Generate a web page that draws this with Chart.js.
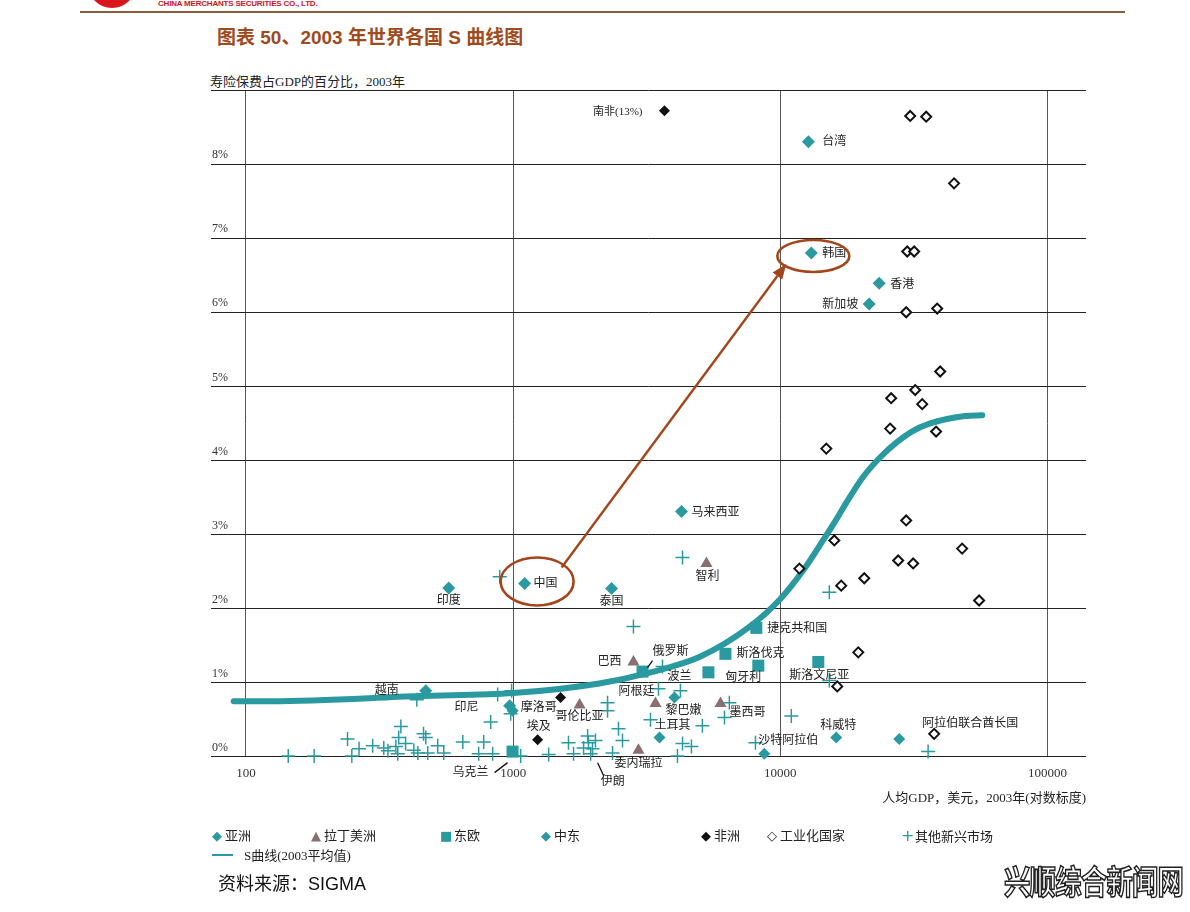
<!DOCTYPE html>
<html><head><meta charset="utf-8">
<script src="https://cdn.jsdelivr.net/npm/chart.js@4.4.1/dist/chart.umd.min.js"></script>
<style>
html,body{margin:0;padding:0;background:#fff;}
body{width:1190px;height:912px;position:relative;overflow:hidden;font-family:"Liberation Serif","Noto Sans CJK SC",serif;color:#222;}
#logo{position:absolute;left:88px;top:-40px;width:48px;height:48px;border-radius:50%;background:#d8151c;}
#company{position:absolute;left:158px;top:-1px;font:bold 8px "Liberation Sans",Arial,sans-serif;color:#c8161d;letter-spacing:-0.2px;}
#rule{position:absolute;left:80px;top:11px;width:1045px;height:2px;background:#8c5a3c;}
#heading{position:absolute;left:217px;top:22px;font:bold 19px "Liberation Sans","Noto Sans CJK SC",sans-serif;color:#9e4b1d;white-space:nowrap;}
#ytitle{position:absolute;left:210px;top:71px;font:13px "Liberation Serif","Noto Sans CJK SC",serif;color:#222;white-space:nowrap;}
#chart{position:absolute;left:0;top:0;}
.lg{position:absolute;font:13px "Liberation Serif","Noto Sans CJK SC",serif;color:#222;white-space:nowrap;line-height:16px;}
.lg span.m{display:inline-block;width:12px;text-align:center;margin-right:2px;font-family:"DejaVu Sans",sans-serif;}
.lg span.ln{display:inline-block;width:21px;height:0;border-top:2.5px solid #2a9aa0;vertical-align:middle;margin-right:11px;position:relative;top:-2px;}
#source{position:absolute;left:218px;top:869px;font:18px "Liberation Sans","Noto Sans CJK SC",sans-serif;color:#111;white-space:nowrap;}
#wm{position:absolute;left:1004px;top:856px;font:bold 33px "Noto Sans CJK SC",sans-serif;color:#fff;-webkit-text-stroke:1.6px #222;transform:scaleX(0.8);transform-origin:left top;white-space:nowrap;letter-spacing:-1px;}
</style></head>
<body>
<div id="logo"></div>
<div id="company">CHINA MERCHANTS SECURITIES CO., LTD.</div>
<div id="rule"></div>
<div id="heading">图表 50、2003 年世界各国 S 曲线图</div>
<div id="ytitle">寿险保费占GDP的百分比，2003年</div>
<canvas id="chart" width="1190" height="912"></canvas>
<div id="legend"></div>
<div id="source">资料来源：SIGMA</div>
<div id="wm">兴顺综合新闻网</div>
<script>
// ---------- data ----------
const xTickValues = [100, 1000, 10000, 100000];
const yTickValues = [0, 1, 2, 3, 4, 5, 6, 7, 8, 9];

const asiaNames = ['台湾','韩国','香港','新加坡','马来西亚','中国','印度','泰国','越南','印尼'];
const asiaGdp   = [12730, 13060, 23440, 21500, 4266, 1104, 574, 2335, 471, 970];
const asiaPct   = [8.30, 6.80, 6.39, 6.11, 3.31, 2.34, 2.28, 2.27, 0.89, 0.69];

const latinNames = ['智利','巴西','哥伦比亚','阿根廷','墨西哥','委内瑞拉'];
const latinGdp   = [5290, 2820, 1773, 3410, 5970, 2945];
const latinPct   = [2.61, 1.28, 0.70, 0.72, 0.72, 0.09];

const eastEuNames = ['俄罗斯','波兰','斯洛伐克','匈牙利','捷克共和国','斯洛文尼亚','乌克兰'];
const eastEuGdp   = [3050, 5380, 6230, 8270, 8130, 13870, 995];
const eastEuPct   = [1.15, 1.14, 1.39, 1.23, 1.74, 1.28, 0.07];

const mideastNames = ['摩洛哥','黎巴嫩','土耳其','沙特阿拉伯','科威特',''];
const mideastGdp   = [996, 4015, 3530, 8710, 16190, 27860];
const mideastPct   = [0.62, 0.80, 0.26, 0.04, 0.26, 0.24];

const africaNames = ['南非(13%)','埃及',''];
const africaGdp   = [3684, 1235, 1505];
const africaPct   = [8.72, 0.23, 0.80];

const industNames = ['','','','','','','','','','','','','','','','','','','','','','','','','','阿拉伯联合酋长国'];
const industGdp = [30620, 35150, 44680, 29850, 31690, 29580, 38640, 39650, 31970, 25990, 33960, 25760, 38280,
                   14860, 29580, 15920, 47900, 27610, 31420, 11780, 20610, 16900, 55450, 19570, 16330, 37640];
const industPct = [8.65, 8.64, 7.74, 6.82, 6.82, 6.00, 6.05, 5.20, 4.95, 4.84, 4.76, 4.43, 4.39,
                   4.16, 3.19, 2.92, 2.81, 2.65, 2.61, 2.54, 2.41, 2.31, 2.11, 1.41, 0.95, 0.31];

const otherGdp = [144, 180, 240, 249, 265, 298, 328, 340, 364, 373, 380, 370, 396, 425, 440, 436, 462, 471, 479, 522,
                  550, 648, 743, 776, 824, 838, 875, 987, 979, 891, 1067, 1358, 1611, 1683, 1835, 1900, 1914, 1982, 2033, 1950,
                  2355, 2256, 2256, 2479, 2566, 2820, 3266, 3622, 3499, 4227, 4121, 4305, 4648, 5109, 6180, 6445, 4305, 8070,
                  10990, 15250, 15250, 35730];
const otherPct = [0.01, 0.01, 0.24, 0.01, 0.11, 0.15, 0.12, 0.08, 0.14, 0.26, 0.41, 0.04, 0.18, 0.09, 0.05, 0.77, 0.31, 0.26, 0.05, 0.15,
                  0.05, 0.20, 0.04, 0.20, 0.47, 0.04, 0.84, 0.89, 0.58, 2.43, 0.01, 0.03, 0.19, 0.04, 0.12, 0.28, 0.19, 0.11, 0.22, 0.04,
                  0.05, 0.73, 0.62, 0.38, 0.22, 1.76, 0.50, 1.22, 0.92, 0.89, 0.01, 0.18, 0.14, 0.42, 0.53, 0.73, 2.69, 0.19,
                  0.55, 2.22, 1.03, 0.07];
const otherNames = otherGdp.map((v, i) => i === 39 ? '伊朗' : '');

const curveGdp = [90, 125, 450, 1000, 2100, 3270, 5000, 7700, 10000, 12200, 14500, 16060, 17800, 20430, 23600,
                  27380, 31400, 36370, 42000, 49150, 57000];
const curvePct = [0.75, 0.75, 0.82, 0.86, 0.99, 1.14, 1.35, 1.76, 2.13, 2.52, 2.93, 3.18, 3.45, 3.78, 4.04,
                  4.25, 4.40, 4.50, 4.56, 4.60, 4.61];

// ---------- styling / layout (not data) ----------
const TEAL = '#2a9aa0', MAUVE = '#8a6e70', BLACK = '#111', BROWN = '#a3461c';
const SERIF = '"Liberation Serif","Noto Sans CJK SC",serif';

// label placement: [dx, dy, align, leaderFrom, leaderTo]
const labelPlace = {
  '南非(13%)': [-22, 1, 'right'],
  '台湾': [14, 0, 'left'], '韩国': [11, 1, 'left'], '香港': [11, 1, 'left'], '新加坡': [-11, 1, 'right'],
  '马来西亚': [10, 1, 'left'], '中国': [9, 0, 'left'], '印度': [0, 13, 'center'], '泰国': [0, 13, 'center'],
  '越南': [-27, 0, 'right'], '印尼': [-31, 2, 'right'],
  '智利': [1, 13, 'center'], '巴西': [-12, 0, 'right'], '哥伦比亚': [0, 12, 'center'], '阿根廷': [-19, -12, 'center'],
  '墨西哥': [9, 9, 'left'], '委内瑞拉': [0, 14, 'center'],
  '俄罗斯': [28, -20, 'center', [10, -11], [5, -4]], '波兰': [-29, 5, 'center'], '斯洛伐克': [11, 0, 'left'],
  '匈牙利': [-15, 12, 'center'], '捷克共和国': [11, 1, 'left'], '斯洛文尼亚': [1, 14, 'center'],
  '乌克兰': [-42, 21, 'center', [-18, 21], [-5, 11]],
  '摩洛哥': [8, -3, 'left'], '黎巴嫩': [9, 13, 'center'], '土耳其': [13, -12, 'center'], '沙特阿拉伯': [24, -13, 'center'],
  '科威特': [2, -12, 'center'], '埃及': [1, -13, 'center'], '阿拉伯联合酋长国': [36, -10, 'center'],
  '伊朗': [22, 28, 'center', [7, 9], [13, 22]]
};

const zip = (xs, ys) => xs.map((x, i) => ({x: x, y: ys[i]}));

const datasets = [
  {label: '亚洲', names: asiaNames, data: zip(asiaGdp, asiaPct), pointStyle: 'rectRot', pointRadius: 6.5,
   backgroundColor: TEAL, borderColor: TEAL, borderWidth: 0, glyph: '◆', glyphColor: TEAL, order: 1},
  {label: '拉丁美洲', names: latinNames, data: zip(latinGdp, latinPct), pointStyle: 'triangle', pointRadius: 7,
   backgroundColor: MAUVE, borderColor: MAUVE, borderWidth: 0, glyph: '▲', glyphColor: MAUVE, order: 1},
  {label: '东欧', names: eastEuNames, data: zip(eastEuGdp, eastEuPct), pointStyle: 'rect', pointRadius: 8.5,
   backgroundColor: TEAL, borderColor: TEAL, borderWidth: 0, glyph: '■', glyphColor: TEAL, order: 1},
  {label: '中东', names: mideastNames, data: zip(mideastGdp, mideastPct), pointStyle: 'rectRot', pointRadius: 6,
   backgroundColor: TEAL, borderColor: TEAL, borderWidth: 0, glyph: '◆', glyphColor: TEAL, order: 1},
  {label: '非洲', names: africaNames, data: zip(africaGdp, africaPct), pointStyle: 'rectRot', pointRadius: 5.5,
   backgroundColor: BLACK, borderColor: BLACK, borderWidth: 0, glyph: '◆', glyphColor: BLACK, order: 1},
  {label: '工业化国家', names: industNames, data: zip(industGdp, industPct), pointStyle: 'rectRot', pointRadius: 5,
   backgroundColor: '#fff', borderColor: BLACK, borderWidth: 2, glyph: '◇', glyphColor: BLACK, order: 1},
  {label: '其他新兴市场', names: otherNames, data: zip(otherGdp, otherPct), pointStyle: 'cross', pointRadius: 7,
   backgroundColor: TEAL, borderColor: TEAL, borderWidth: 1.5, glyph: '+', glyphColor: TEAL, order: 2},
  {type: 'line', label: 'S曲线(2003平均值)', data: zip(curveGdp, curvePct), showLine: true, pointRadius: 0,
   borderColor: TEAL, backgroundColor: TEAL, borderWidth: 6, borderCapStyle: 'round', borderJoinStyle: 'round',
   cubicInterpolationMode: 'monotone', fill: false, glyph: 'line', glyphColor: TEAL, order: 10}
];

const labelPlugin = {
  id: 'pointNames',
  afterDatasetsDraw(chart) {
    const ctx = chart.ctx;
    ctx.save();
    ctx.fillStyle = '#222';
    ctx.strokeStyle = '#111';
    ctx.lineWidth = 1.3;
    ctx.textBaseline = 'middle';
    chart.data.datasets.forEach((ds, di) => {
      if (!ds.names) return;
      const meta = chart.getDatasetMeta(di);
      ds.names.forEach((n, i) => {
        if (!n) return;
        const p = meta.data[i];
        const pl = labelPlace[n] || [8, 0, 'left'];
        ctx.textAlign = pl[2];
        ctx.font = (n === '南非(13%)' ? '11px ' : '12px ') + SERIF;
        ctx.fillText(n, p.x + pl[0], p.y + pl[1]);
        if (pl[3]) {
          ctx.beginPath();
          ctx.moveTo(p.x + pl[3][0], p.y + pl[3][1]);
          ctx.lineTo(p.x + pl[4][0], p.y + pl[4][1]);
          ctx.stroke();
        }
      });
    });
    ctx.restore();
  }
};

const highlightPlugin = {
  id: 'highlight',
  afterDatasetsDraw(chart) {
    const meta = chart.getDatasetMeta(0);
    const cn = meta.data[asiaNames.indexOf('中国')];
    const kr = meta.data[asiaNames.indexOf('韩国')];
    const ctx = chart.ctx;
    ctx.save();
    ctx.strokeStyle = BROWN; ctx.fillStyle = BROWN; ctx.lineWidth = 2.6;
    ctx.beginPath(); ctx.ellipse(cn.x + 12.5, cn.y - 2, 36.5, 24, 0, 0, Math.PI * 2); ctx.stroke();
    ctx.beginPath(); ctx.ellipse(kr.x + 2, kr.y + 3, 36, 16, 0, 0, Math.PI * 2); ctx.stroke();
    const x1 = cn.x + 37, y1 = cn.y - 16, x2 = kr.x - 25, y2 = kr.y + 11;
    const ang = Math.atan2(y2 - y1, x2 - x1), L = 15, W = 6;
    const bx = x2 - L * Math.cos(ang), by = y2 - L * Math.sin(ang);
    ctx.lineWidth = 2.4;
    ctx.beginPath(); ctx.moveTo(x1, y1); ctx.lineTo(bx, by); ctx.stroke();
    ctx.beginPath();
    ctx.moveTo(x2, y2);
    ctx.lineTo(bx + W * Math.sin(ang), by - W * Math.cos(ang));
    ctx.lineTo(bx - W * Math.sin(ang), by + W * Math.cos(ang));
    ctx.closePath(); ctx.fill();
    ctx.restore();
  }
};

const chart = new Chart(document.getElementById('chart'), {
  type: 'scatter',
  data: {datasets: datasets},
  plugins: [labelPlugin, highlightPlugin],
  options: {
    responsive: false,
    animation: false,
    clip: false,
    layout: {padding: {left: 209, right: 104, top: 90, bottom: 106}},
    plugins: {legend: {display: false}, tooltip: {enabled: false}, title: {display: false}},
    scales: {
      x: {
        type: 'logarithmic', min: 74, max: 139300,
        afterBuildTicks: (axis) => { axis.ticks = xTickValues.map(v => ({value: v})); },
        grid: {color: '#555', lineWidth: 1, drawTicks: false},
        border: {display: false},
        ticks: {padding: 9, color: '#333', font: {family: SERIF, size: 13}, maxRotation: 0, autoSkip: false,
                callback: (v) => String(v)},
        title: {display: true, text: '人均GDP，美元，2003年(对数标度)', align: 'end', color: '#222',
                font: {family: SERIF, size: 13}, padding: {top: 0, bottom: 0}}
      },
      y: {
        min: 0, max: 9,
        afterBuildTicks: (axis) => { axis.ticks = yTickValues.map(v => ({value: v})); },
        grid: {color: '#222', lineWidth: 1, drawTicks: false},
        border: {display: false},
        ticks: {mirror: true, padding: 1, labelOffset: -9, color: '#333', font: {family: SERIF, size: 12},
                callback: (v) => v === 9 ? '' : v + '%'}
      }
    }
  }
});

// HTML legend built from the datasets
const legendLeft = [211, 310, 440, 540, 700, 766, 901, 212];
const legendTop  = [828, 828, 828, 828, 828, 828, 828, 848];
const lg = document.getElementById('legend');
chart.data.datasets.forEach((ds, i) => {
  const d = document.createElement('div');
  d.className = 'lg';
  d.style.left = legendLeft[i] + 'px';
  d.style.top = legendTop[i] + 'px';
  const m = document.createElement('span');
  if (ds.glyph === 'line') {
    m.className = 'ln';
    m.style.borderTopColor = ds.glyphColor;
  } else {
    m.className = 'm';
    m.textContent = ds.glyph;
    m.style.color = ds.glyphColor;
    if (ds.glyph === '◇') { m.style.fontWeight = 'bold'; }
    if (ds.glyph === '+') { m.style.fontSize = '16px'; }
  }
  d.appendChild(m);
  d.appendChild(document.createTextNode(ds.label));
  lg.appendChild(d);
});
</script>
</body></html>
